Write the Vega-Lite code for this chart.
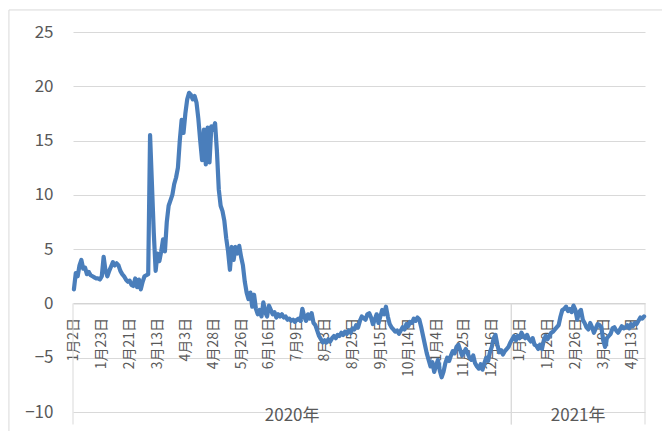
{
  "$schema": "https://vega.github.io/schema/vega-lite/v6.json",
  "width": 572,
  "height": 380,
  "autosize": {"type": "none"},
  "padding": {"left": 73, "top": 32, "right": 17, "bottom": 19},
  "background": "white",
  "config": {
    "view": {"stroke": null},
    "font": "Noto Sans CJK SC",
    "axisX": {
      "labelExpr": "['1月2日','1月23日','2月21日','3月13日','4月3日','4月28日','5月26日','6月16日','7月9日','8月3日','8月25日','9月15日','10月14日','11月4日','11月25日','12月16日','1月8日','1月29日','2月26日','3月19日','4月13日'][round(datum.value/15)]",
      "grid": false, "ticks": false,
      "domain": true, "domainColor": "#d0d0d0", "domainWidth": 1,
      "offset": -108.57,
      "labelAngle": -90, "labelColor": "#595959", "labelFontSize": 14, "labelFont": "Noto Sans CJK SC",
      "labelPadding": 14, "labelOverlap": false, "labelBound": false, "labelFlush": false
    },
    "axisY": {
      "domain": false, "ticks": false, "grid": true,
      "gridColor": "#d9d9d9", "gridWidth": 1,
      "labelColor": "#595959", "labelFontSize": 17, "labelFont": "Noto Sans CJK SC", "labelPadding": 20
    }
  },
  "datasets": {
    "series": [
      {"t":0,"v":1.3},{"t":1,"v":2.8},{"t":2,"v":2.5},{"t":3,"v":3.5},{"t":4,"v":4.0},{"t":5,"v":3.2},{"t":6,"v":3.3},{"t":7,"v":2.7},{"t":8,"v":2.9},{"t":9,"v":2.6},
      {"t":10,"v":2.5},{"t":11,"v":2.4},{"t":12,"v":2.3},{"t":13,"v":2.3},{"t":14,"v":2.2},{"t":15,"v":2.5},{"t":16,"v":4.3},{"t":17,"v":3.0},{"t":18,"v":2.5},{"t":19,"v":3.0},
      {"t":20,"v":3.4},{"t":21,"v":3.8},{"t":22,"v":3.5},{"t":23,"v":3.7},{"t":24,"v":3.5},{"t":25,"v":3.0},{"t":26,"v":2.7},{"t":27,"v":2.5},{"t":28,"v":2.2},{"t":29,"v":2.0},
      {"t":30,"v":2.1},{"t":31,"v":1.7},{"t":32,"v":1.6},{"t":33,"v":2.3},{"t":34,"v":1.5},{"t":35,"v":2.2},{"t":36,"v":1.3},{"t":37,"v":2.0},{"t":38,"v":2.5},{"t":39,"v":2.6},
      {"t":40,"v":2.7},{"t":41,"v":15.5},{"t":42,"v":11.0},{"t":43,"v":6.5},{"t":44,"v":3.0},{"t":45,"v":4.6},{"t":46,"v":3.9},{"t":47,"v":4.8},{"t":48,"v":5.9},{"t":49,"v":4.8},
      {"t":50,"v":7.5},{"t":51,"v":9.0},{"t":53,"v":10.0},{"t":54,"v":11.0},{"t":55,"v":11.6},{"t":56,"v":12.5},{"t":57,"v":15.0},{"t":58,"v":16.9},{"t":59,"v":15.7},{"t":60,"v":17.5},
      {"t":61,"v":18.8},{"t":62,"v":19.4},{"t":63,"v":19.2},{"t":64,"v":18.8},{"t":65,"v":19.1},{"t":66,"v":18.5},{"t":67,"v":17.0},{"t":68,"v":15.0},{"t":69,"v":13.2},{"t":70,"v":16.0},
      {"t":71,"v":12.8},{"t":72,"v":16.2},{"t":73,"v":13.0},{"t":74,"v":16.3},{"t":75,"v":16.0},{"t":76,"v":16.6},{"t":77,"v":14.0},{"t":78,"v":10.5},{"t":79,"v":9.0},{"t":80,"v":8.5},
      {"t":81,"v":7.6},{"t":82,"v":6.0},{"t":83,"v":4.8},{"t":84,"v":3.1},{"t":85,"v":5.2},{"t":86,"v":4.0},{"t":87,"v":5.2},{"t":88,"v":4.6},{"t":89,"v":5.3},{"t":90,"v":4.3},
      {"t":91,"v":3.5},{"t":92,"v":2.0},{"t":93,"v":1.0},{"t":94,"v":0.4},{"t":95,"v":1.0},{"t":96,"v":-0.3},{"t":97,"v":0.8},{"t":98,"v":-0.5},{"t":99,"v":-1.0},{"t":100,"v":-0.6},
      {"t":101,"v":-1.2},{"t":102,"v":0.1},{"t":103,"v":-0.8},{"t":104,"v":-1.2},{"t":105,"v":-0.2},{"t":106,"v":-0.6},{"t":107,"v":-1.0},{"t":108,"v":-0.8},{"t":109,"v":-1.3},{"t":110,"v":-1.0},
      {"t":111,"v":-1.2},{"t":112,"v":-1.0},{"t":113,"v":-1.3},{"t":114,"v":-1.2},{"t":115,"v":-1.5},{"t":116,"v":-1.4},{"t":117,"v":-1.6},{"t":118,"v":-1.5},{"t":119,"v":-1.7},{"t":120,"v":-1.5},
      {"t":121,"v":-1.4},{"t":122,"v":-1.6},{"t":123,"v":-0.5},{"t":124,"v":-1.2},{"t":125,"v":-1.6},{"t":126,"v":-1.0},{"t":127,"v":-1.4},{"t":128,"v":-0.9},{"t":129,"v":-1.8},{"t":130,"v":-2.0},
      {"t":131,"v":-2.5},{"t":132,"v":-3.0},{"t":133,"v":-3.3},{"t":134,"v":-3.6},{"t":135,"v":-3.4},{"t":136,"v":-3.6},{"t":137,"v":-3.3},{"t":138,"v":-3.5},{"t":139,"v":-3.2},{"t":140,"v":-3.0},
      {"t":141,"v":-3.2},{"t":142,"v":-2.9},{"t":143,"v":-3.0},{"t":144,"v":-2.7},{"t":145,"v":-2.9},{"t":146,"v":-2.6},{"t":147,"v":-2.8},{"t":148,"v":-2.5},{"t":149,"v":-2.7},{"t":150,"v":-2.3},
      {"t":151,"v":-2.4},{"t":152,"v":-2.0},{"t":153,"v":-2.2},{"t":154,"v":-1.6},{"t":155,"v":-1.2},{"t":157,"v":-1.5},{"t":158,"v":-1.0},{"t":159,"v":-0.9},{"t":160,"v":-1.3},{"t":161,"v":-1.9},
      {"t":162,"v":-1.5},{"t":163,"v":-1.0},{"t":164,"v":-1.8},{"t":165,"v":-1.2},{"t":166,"v":-0.6},{"t":167,"v":-1.0},{"t":168,"v":-0.3},{"t":169,"v":-1.2},{"t":170,"v":-1.9},{"t":171,"v":-2.2},
      {"t":172,"v":-2.4},{"t":173,"v":-2.6},{"t":174,"v":-2.5},{"t":175,"v":-2.8},{"t":176,"v":-2.5},{"t":177,"v":-2.2},{"t":178,"v":-2.4},{"t":179,"v":-1.9},{"t":180,"v":-2.1},{"t":181,"v":-1.7},
      {"t":182,"v":-1.8},{"t":183,"v":-1.4},{"t":184,"v":-1.6},{"t":185,"v":-1.3},{"t":186,"v":-1.5},{"t":187,"v":-2.2},{"t":188,"v":-3.0},{"t":189,"v":-3.8},{"t":190,"v":-4.6},{"t":191,"v":-5.2},
      {"t":192,"v":-5.8},{"t":193,"v":-5.4},{"t":194,"v":-6.3},{"t":195,"v":-5.7},{"t":196,"v":-5.2},{"t":197,"v":-6.2},{"t":198,"v":-6.8},{"t":199,"v":-6.3},{"t":200,"v":-5.5},{"t":201,"v":-5.0},
      {"t":202,"v":-5.3},{"t":203,"v":-4.8},{"t":204,"v":-4.4},{"t":205,"v":-4.6},{"t":206,"v":-4.0},{"t":207,"v":-3.8},{"t":208,"v":-4.3},{"t":209,"v":-4.8},{"t":210,"v":-4.5},{"t":211,"v":-4.2},
      {"t":212,"v":-4.6},{"t":213,"v":-5.0},{"t":214,"v":-5.2},{"t":215,"v":-4.8},{"t":216,"v":-5.5},{"t":217,"v":-5.8},{"t":218,"v":-6.0},{"t":219,"v":-5.6},{"t":220,"v":-6.1},{"t":221,"v":-5.5},
      {"t":222,"v":-5.0},{"t":223,"v":-5.3},{"t":224,"v":-4.5},{"t":225,"v":-4.0},{"t":226,"v":-3.2},{"t":227,"v":-2.9},{"t":228,"v":-3.8},{"t":229,"v":-4.5},{"t":230,"v":-4.3},{"t":231,"v":-4.7},
      {"t":232,"v":-4.4},{"t":233,"v":-4.2},{"t":234,"v":-4.0},{"t":235,"v":-3.6},{"t":236,"v":-3.3},{"t":237,"v":-3.0},{"t":238,"v":-3.4},{"t":239,"v":-3.0},{"t":240,"v":-3.2},{"t":241,"v":-2.7},
      {"t":242,"v":-3.0},{"t":243,"v":-3.2},{"t":244,"v":-2.9},{"t":245,"v":-3.3},{"t":246,"v":-3.5},{"t":247,"v":-3.2},{"t":248,"v":-3.8},{"t":249,"v":-3.9},{"t":250,"v":-4.2},{"t":251,"v":-3.8},
      {"t":252,"v":-4.2},{"t":253,"v":-3.4},{"t":254,"v":-3.0},{"t":255,"v":-3.3},{"t":256,"v":-3.0},{"t":257,"v":-2.7},{"t":258,"v":-2.6},{"t":259,"v":-2.4},{"t":261,"v":-2.0},{"t":262,"v":-1.2},
      {"t":263,"v":-0.6},{"t":264,"v":-0.5},{"t":265,"v":-0.3},{"t":266,"v":-0.7},{"t":267,"v":-0.5},{"t":268,"v":-0.8},{"t":269,"v":-0.2},{"t":270,"v":-0.6},{"t":271,"v":-1.5},{"t":272,"v":-0.8},
      {"t":273,"v":-0.6},{"t":274,"v":-1.5},{"t":275,"v":-1.8},{"t":276,"v":-2.2},{"t":277,"v":-2.4},{"t":278,"v":-1.8},{"t":279,"v":-2.2},{"t":280,"v":-2.7},{"t":281,"v":-2.3},{"t":282,"v":-1.9},
      {"t":283,"v":-2.0},{"t":284,"v":-2.2},{"t":285,"v":-3.4},{"t":286,"v":-4.0},{"t":287,"v":-3.2},{"t":288,"v":-3.0},{"t":289,"v":-2.8},{"t":290,"v":-2.3},{"t":291,"v":-2.2},{"t":292,"v":-2.5},
      {"t":293,"v":-2.7},{"t":294,"v":-2.4},{"t":295,"v":-2.1},{"t":296,"v":-2.3},{"t":297,"v":-2.2},{"t":298,"v":-2.0},{"t":299,"v":-2.3},{"t":300,"v":-1.9},{"t":301,"v":-2.1},{"t":302,"v":-1.8},
      {"t":303,"v":-1.9},{"t":304,"v":-1.6},{"t":305,"v":-1.3},{"t":306,"v":-1.4},{"t":307,"v":-1.2}
    ],
    "years": [
      {"year": "2020年", "start": -0.5, "end": 235.5, "mid": 117.5},
      {"year": "2021年", "start": 235.5, "end": 307.5, "mid": 271.5}
    ],
    "frame": [{"left": -35, "right": 340, "top": 27.03, "bottom": -14}]
  },
  "layer": [
    {
      "data": {"name": "frame"},
      "mark": {"type": "rule", "color": "#d9d9d9", "strokeWidth": 1},
      "encoding": {
        "x": {"field": "left", "type": "quantitative", "axis": {"title": null, "values": [0,15,30,45,60,75,90,105,120,135,150,165,180,195,210,225,240,255,270,285,300]}},
        "x2": {"field": "right"},
        "y": {"field": "top", "type": "quantitative", "axis": {"title": null, "values": [-10,-5,0,5,10,15,20,25]}}
      }
    },
    {
      "data": {"name": "frame"},
      "mark": {"type": "rule", "color": "#d9d9d9", "strokeWidth": 1},
      "encoding": {
        "x": {"field": "left", "type": "quantitative", "axis": {"title": null, "values": [0,15,30,45,60,75,90,105,120,135,150,165,180,195,210,225,240,255,270,285,300]}},
        "y": {"field": "top", "type": "quantitative", "axis": {"title": null, "values": [-10,-5,0,5,10,15,20,25]}},
        "y2": {"field": "bottom"}
      }
    },
    {
      "data": {"name": "years"},
      "mark": {"type": "rule", "color": "#d9d9d9", "strokeWidth": 1},
      "encoding": {
        "x": {"field": "start", "type": "quantitative", "axis": {"title": null, "values": [0,15,30,45,60,75,90,105,120,135,150,165,180,195,210,225,240,255,270,285,300]}},
        "y": {"datum": 0, "type": "quantitative", "axis": {"title": null, "values": [-10,-5,0,5,10,15,20,25]}},
        "y2": {"datum": -11.15}
      }
    },
    {
      "data": {"name": "years"},
      "mark": {"type": "rule", "color": "#d9d9d9", "strokeWidth": 1},
      "encoding": {
        "x": {"field": "end", "type": "quantitative", "axis": {"title": null, "values": [0,15,30,45,60,75,90,105,120,135,150,165,180,195,210,225,240,255,270,285,300]}},
        "y": {"datum": 0, "type": "quantitative", "axis": {"title": null, "values": [-10,-5,0,5,10,15,20,25]}},
        "y2": {"datum": -11.15}
      }
    },
    {
      "data": {"name": "years"},
      "mark": {"type": "text", "color": "#595959", "fontSize": 17, "font": "Noto Sans CJK SC", "baseline": "middle", "align": "center"},
      "encoding": {
        "x": {"field": "mid", "type": "quantitative", "axis": {"title": null, "values": [0,15,30,45,60,75,90,105,120,135,150,165,180,195,210,225,240,255,270,285,300]}},
        "y": {"datum": -10.4, "type": "quantitative", "axis": {"title": null, "values": [-10,-5,0,5,10,15,20,25]}},
        "text": {"field": "year"}
      }
    },
    {
      "data": {"name": "series"},
      "mark": {"type": "line", "color": "#4a7ebb", "strokeWidth": 4.2, "strokeJoin": "round", "strokeCap": "round"},
      "encoding": {
        "x": {
          "field": "t", "type": "quantitative",
          "scale": {"domain": [-0.5, 307.5], "nice": false, "zero": false},
          "axis": {"title": null, "values": [0,15,30,45,60,75,90,105,120,135,150,165,180,195,210,225,240,255,270,285,300]}
        },
        "y": {
          "field": "v", "type": "quantitative",
          "scale": {"domain": [-10, 25], "nice": false, "zero": false},
          "axis": {"title": null, "values": [-10,-5,0,5,10,15,20,25]}
        }
      }
    }
  ]
}
